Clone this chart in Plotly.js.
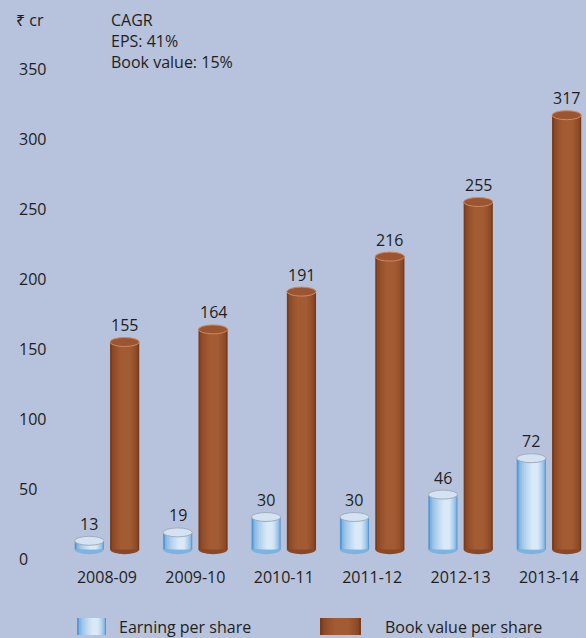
<!DOCTYPE html>
<html>
<head>
<meta charset="utf-8">
<script src="https://cdn.plot.ly/plotly-3.0.1.min.js"></script>
<style>
  html, body { margin: 0; padding: 0; background: #b7c2dc; }
  #chart { width: 586px; height: 638px; }
</style>
</head>
<body>
<div id="chart"></div>
<script>
// data
const years = ['2008-09', '2009-10', '2010-11', '2011-12', '2012-13', '2013-14'];
const eps = [13, 19, 30, 30, 46, 72];
const bookValue = [155, 164, 191, 216, 255, 317];
const seriesNames = ['Earning per share', 'Book value per share'];
const yTicks = [0, 50, 100, 150, 200, 250, 300, 350];

const FONT = '"Open Sans", "Noto Sans", "DejaVu Sans", sans-serif';
const FS = 16;
const INK = '#231f20';
const BG = '#b7c2dc';

// geometry of the cylinders (axis units)
const W = 0.33;
const BASE = 7;
const CAP = 3.2;
const xs = years.map((_, i) => i);

// fake horizontal gradient: stacked narrower bars, edge colour -> centre colour
function mix(a, b, t) {
  const pa = a.match(/\w\w/g).map(h => parseInt(h, 16));
  const pb = b.match(/\w\w/g).map(h => parseInt(h, 16));
  return 'rgb(' + pa.map((v, i) => Math.round(v + (pb[i] - v) * t)).join(',') + ')';
}
function gradient(edge, centre, steps, minF, shift) {
  const out = [];
  for (let k = 0; k < steps; k++) {
    const t = k / (steps - 1);
    out.push({ f: 1 - (1 - minF) * t, shift: shift * t, color: mix(edge, centre, Math.sqrt(t)) });
  }
  return out;
}
const epsLayers = gradient('#5298d6', '#dae9f7', 9, 0.22, 0.12);
const bvLayers = gradient('#783b1b', '#a35b33', 7, 0.35, 0.02);

function cylinder(values, center, layers, name) {
  return layers.map(l => ({
    type: 'bar',
    x: xs,
    y: values.map(v => v - BASE),
    base: BASE,
    width: W * l.f,
    offset: center - W * l.f / 2 + W * l.shift,
    marker: { color: l.color, line: { width: 0 } },
    name: name,
    showlegend: false,
    hoverinfo: 'skip'
  }));
}

const data = [
  ...cylinder(eps, -0.2, epsLayers, seriesNames[0]),
  ...cylinder(bookValue, 0.2, bvLayers, seriesNames[1])
];

const shapes = [];
const annotations = [];

function caps(values, center, bottomColor, topFill, topLine) {
  values.forEach((v, i) => {
    const x0 = i + center - W / 2;
    const x1 = i + center + W / 2;
    shapes.push({
      type: 'circle', xref: 'x', yref: 'y', layer: 'below',
      x0: x0, x1: x1, y0: BASE - CAP * 1.1, y1: BASE + CAP * 1.1,
      fillcolor: bottomColor, line: { width: 0 }
    });
    shapes.push({
      type: 'circle', xref: 'x', yref: 'y', layer: 'above',
      x0: x0, x1: x1, y0: v - CAP, y1: v + CAP,
      fillcolor: topFill, line: { width: 1, color: topLine }
    });
    annotations.push({
      x: i + center, y: v, xref: 'x', yref: 'y',
      text: String(v), showarrow: false, yshift: 17,
      font: { family: FONT, size: FS, color: INK }
    });
  });
}
caps(eps, -0.2, '#7db3e2', '#d3e3f3', '#a4abb8');
caps(bookValue, 0.2, '#8b4826', '#9c552f', '#c98a66');

// pixel helpers for the hand made legend and header
const L = 16, T = 20, PW = 570, PH = 539;
const px = x => (x - L) / PW;
const py = y => 1 - (y - T) / PH;

function swatch(x0, x1, layers) {
  layers.forEach(l => {
    const c = (x0 + x1) / 2 + (x1 - x0) * l.shift;
    const h = (x1 - x0) * l.f / 2;
    shapes.push({
      type: 'rect', xref: 'paper', yref: 'paper',
      x0: px(c - h), x1: px(c + h), y0: py(635), y1: py(618),
      fillcolor: l.color, line: { width: 0 }
    });
  });
}
swatch(77, 106, epsLayers);
swatch(320, 361, bvLayers);

annotations.push(
  { xref: 'paper', yref: 'paper', x: px(117), y: py(627), xanchor: 'left', yanchor: 'middle',
    text: seriesNames[0], showarrow: false, font: { family: FONT, size: FS, color: INK } },
  { xref: 'paper', yref: 'paper', x: px(383), y: py(627), xanchor: 'left', yanchor: 'middle',
    text: seriesNames[1], showarrow: false, font: { family: FONT, size: FS, color: INK } },
  { xref: 'paper', yref: 'paper', x: px(14), y: py(20), xanchor: 'left', yanchor: 'middle',
    text: '₹ cr', showarrow: false, font: { family: FONT, size: FS, color: INK } },
  { xref: 'paper', yref: 'paper', x: px(109), y: py(7), xanchor: 'left', yanchor: 'top', align: 'left',
    text: 'CAGR<br>EPS: 41%<br>Book value: 15%', showarrow: false,
    font: { family: FONT, size: FS, color: INK } }
);

const layout = {
  width: 586,
  height: 638,
  paper_bgcolor: BG,
  plot_bgcolor: BG,
  margin: { l: L, r: 0, t: T, b: 638 - T - PH },
  barmode: 'overlay',
  showlegend: false,
  hovermode: false,
  font: { family: FONT, size: FS, color: INK },
  xaxis: {
    type: 'linear',
    range: [-1.029, 5.419],
    tickvals: xs,
    ticktext: years,
    showgrid: false, zeroline: false, showline: false,
    ticks: '',
    ticklabelstandoff: 7,
    tickfont: { family: FONT, size: FS, color: INK },
    fixedrange: true
  },
  yaxis: {
    range: [0, 385],
    tickvals: yTicks,
    ticklabelposition: 'inside',
    ticklabeloverflow: 'allow',
    showgrid: false, zeroline: false, showline: false,
    ticks: '',
    tickfont: { family: FONT, size: FS, color: INK },
    fixedrange: true
  },
  shapes: shapes,
  annotations: annotations
};

Plotly.newPlot('chart', data, layout, { displayModeBar: false, staticPlot: true });
</script>
</body>
</html>
